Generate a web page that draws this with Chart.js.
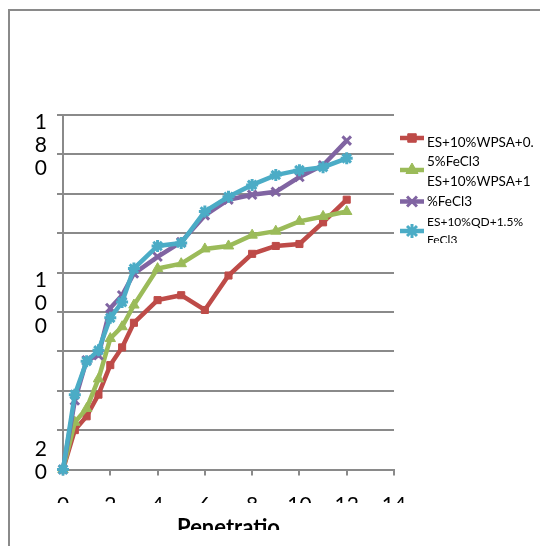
<!DOCTYPE html>
<html>
<head>
<meta charset="utf-8">
<style>
html, body { margin: 0; padding: 0; background: #fff; }
#wrap { position: relative; width: 540px; height: 546px; }
</style>
<script src="https://cdn.jsdelivr.net/npm/chart.js@4.4.0/dist/chart.umd.min.js"></script>
</head>
<body>
<div id="wrap"><canvas id="myChart" width="540" height="546"></canvas></div>
<script>
// values
var penetration = [0, 0.5, 1, 1.5, 2, 2.5, 3, 4, 5, 6, 7, 8, 9, 10, 11, 12];
var wpsa05 = [20, 40, 47, 58, 73, 82, 94.5, 106, 108.5, 101, 118.5, 129.5, 133.5, 134.5, 145.5, 157];
var wpsa1 = [20, 44, 51, 66, 86.5, 92.5, 103.5, 122, 124.5, 132, 133.5, 139, 141, 146, 148.5, 151];
var purpleSeries = [20, 55, 75.5, 78, 102, 108.5, 119.5, 128, 135.5, 149, 157, 159.5, 161, 168.5, 174.5, 187];
var qd15 = [20, 58, 75, 80.5, 97, 105, 122, 133.5, 135, 151, 158.5, 164.5, 169.5, 172, 173.5, 178];

var xTickLabels = ['0', '2', '4', '6', '8', '10', '12', '14'];
var yShownTicks = [20, 100, 180];
var legendLines = ['ES+10%WPSA+0.', '5%FeCl3', 'ES+10%WPSA+1', '%FeCl3', 'ES+10%QD+1.5%', 'FeCl3'];

var gray = '#8a8a8a';
var font = 'Lato, "Open Sans", sans-serif';

function points(arr) {
  return penetration.map(function(p, i) { return { x: p, y: arr[i] }; });
}

function series(label, values, color, style, radius, order) {
  return {
    label: label,
    data: points(values),
    borderColor: color,
    backgroundColor: color,
    borderWidth: 4.5,
    pointStyle: style,
    pointRadius: radius,
    pointBorderWidth: (style === 'crossRot' || style === 'star') ? 3 : 1,
    pointBackgroundColor: color,
    pointBorderColor: color,
    tension: 0,
    clip: false,
    order: order
  };
}

var datasets = [
  series('ES+10%WPSA+0.5%FeCl3', wpsa05, '#BE4B48', 'rect', 5, 4),
  series('ES+10%WPSA+1%FeCl3', wpsa1, '#9BBB59', 'triangle', 6, 3),
  series('', purpleSeries, '#8064A2', 'crossRot', 6, 2),
  series('ES+10%QD+1.5%FeCl3', qd15, '#4BACC6', 'star', 6, 1)
];

// outer frame, clipped labels and the legend on the right
var framePlugin = {
  id: 'frame',
  beforeDraw: function(chart) {
    var ctx = chart.ctx;
    ctx.save();
    ctx.strokeStyle = gray;
    ctx.lineWidth = 2;
    ctx.beginPath();
    ctx.moveTo(9, 546);
    ctx.lineTo(9, 10);
    ctx.lineTo(540, 10);
    ctx.stroke();
    ctx.restore();
  },
  afterDraw: function(chart) {
    var ctx = chart.ctx;
    ctx.save();
    // the source cuts off the lower part of the x labels and title
    ctx.fillStyle = '#fff';
    ctx.fillRect(11, 503, 529, 12);
    ctx.fillRect(11, 530, 529, 16);

    // legend markers
    var markerY = [138, 170, 201.5, 231];
    chart.data.datasets.forEach(function(ds, i) {
      var y = markerY[i];
      ctx.strokeStyle = ds.borderColor;
      ctx.fillStyle = ds.borderColor;
      ctx.lineWidth = 4.5;
      ctx.beginPath();
      ctx.moveTo(400, y);
      ctx.lineTo(424, y);
      ctx.stroke();
      ctx.lineWidth = ds.pointBorderWidth;
      Chart.helpers.drawPoint(ctx, { pointStyle: ds.pointStyle, radius: ds.pointRadius + 1, rotation: 0, borderWidth: ds.pointBorderWidth }, 412, y);
    });

    // legend text
    ctx.beginPath();
    ctx.rect(425, 120, 115, 123);
    ctx.clip();
    ctx.fillStyle = '#000';
    ctx.textBaseline = 'middle';
    ctx.textAlign = 'left';
    var lineY = [143, 162, 181.5, 201.5, 222.5, 240];
    legendLines.forEach(function(t, i) {
      ctx.font = (i < 4 ? '13.5px ' : '12px ') + font;
      ctx.fillText(t, 427, lineY[i]);
    });
    ctx.restore();
  }
};

var ctx = document.getElementById('myChart').getContext('2d');
var myChart = new Chart(ctx, {
  type: 'line',
  data: { datasets: datasets },
  options: {
    responsive: false,
    animation: false,
    layout: { padding: { left: 0, top: 115, right: 146, bottom: 0 } },
    plugins: {
      legend: { display: false },
      tooltip: { enabled: false }
    },
    scales: {
      x: {
        type: 'linear',
        min: 0,
        max: 14,
        afterFit: function(s) { s.height = 76.5; },
        afterBuildTicks: function(s) {
          s.ticks = xTickLabels.map(function(t) { return { value: Number(t) }; });
        },
        ticks: {
          color: '#000',
          padding: 17,
          maxRotation: 0,
          autoSkip: false,
          font: { family: font, size: 21 },
          callback: function(v) { return String(v); }
        },
        grid: { drawOnChartArea: false, drawTicks: true, tickLength: 6, color: gray, lineWidth: 2 },
        border: { color: gray, width: 2 },
        title: {
          display: true,
          text: 'Penetratio',
          color: '#000',
          padding: { top: 0, bottom: 5 },
          font: { family: font, size: 22, weight: 'bold' }
        }
      },
      y: {
        min: 20,
        max: 200,
        afterFit: function(s) { s.width = 63; },
        ticks: {
          stepSize: 20,
          autoSkip: false,
          color: '#000',
          padding: 10,
          labelOffset: -9,
          font: { family: font, size: 21, lineHeight: 1.1 },
          callback: function(v) {
            return yShownTicks.indexOf(v) >= 0 ? String(v).split('') : '';
          }
        },
        grid: { color: gray, lineWidth: 2, tickLength: 6 },
        border: { color: gray, width: 2 }
      }
    }
  },
  plugins: [framePlugin]
});
</script>
</body>
</html>
